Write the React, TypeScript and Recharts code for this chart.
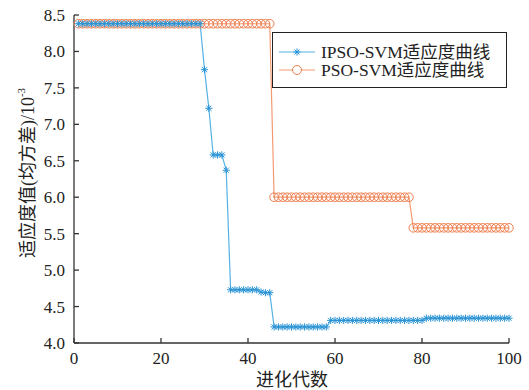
import React from 'react';
import { LineChart, Line, XAxis, YAxis } from 'recharts';

// 进化代数 1..100
const generations: number[] = Array.from({ length: 100 }, (_, i) => i + 1);

// IPSO-SVM 适应度 (x10^-3)
const ipso: number[] = [
  8.38, 8.38, 8.38, 8.38, 8.38, 8.38, 8.38, 8.38, 8.38, 8.38,
  8.38, 8.38, 8.38, 8.38, 8.38, 8.38, 8.38, 8.38, 8.38, 8.38,
  8.38, 8.38, 8.38, 8.38, 8.38, 8.38, 8.38, 8.38, 8.38, 7.75,
  7.22, 6.58, 6.58, 6.58, 6.37, 4.73, 4.73, 4.73, 4.73, 4.73,
  4.73, 4.73, 4.70, 4.69, 4.69, 4.22, 4.22, 4.22, 4.22, 4.22,
  4.22, 4.22, 4.22, 4.22, 4.22, 4.22, 4.22, 4.22, 4.31, 4.31,
  4.31, 4.31, 4.31, 4.31, 4.31, 4.31, 4.31, 4.31, 4.31, 4.31,
  4.31, 4.31, 4.31, 4.31, 4.31, 4.31, 4.31, 4.31, 4.31, 4.31,
  4.34, 4.34, 4.34, 4.34, 4.34, 4.34, 4.34, 4.34, 4.34, 4.34,
  4.34, 4.34, 4.34, 4.34, 4.34, 4.34, 4.34, 4.34, 4.34, 4.34,
];

// PSO-SVM 适应度 (x10^-3)
const pso: number[] = [
  8.38, 8.38, 8.38, 8.38, 8.38, 8.38, 8.38, 8.38, 8.38, 8.38,
  8.38, 8.38, 8.38, 8.38, 8.38, 8.38, 8.38, 8.38, 8.38, 8.38,
  8.38, 8.38, 8.38, 8.38, 8.38, 8.38, 8.38, 8.38, 8.38, 8.38,
  8.38, 8.38, 8.38, 8.38, 8.38, 8.38, 8.38, 8.38, 8.38, 8.38,
  8.38, 8.38, 8.38, 8.38, 8.38, 6.00, 6.00, 6.00, 6.00, 6.00,
  6.00, 6.00, 6.00, 6.00, 6.00, 6.00, 6.00, 6.00, 6.00, 6.00,
  6.00, 6.00, 6.00, 6.00, 6.00, 6.00, 6.00, 6.00, 6.00, 6.00,
  6.00, 6.00, 6.00, 6.00, 6.00, 6.00, 6.00, 5.58, 5.58, 5.58,
  5.58, 5.58, 5.58, 5.58, 5.58, 5.58, 5.58, 5.58, 5.58, 5.58,
  5.58, 5.58, 5.58, 5.58, 5.58, 5.58, 5.58, 5.58, 5.58, 5.58,
];

const seriesNames = ['IPSO-SVM适应度曲线', 'PSO-SVM适应度曲线'];
const xTicks = [0, 20, 40, 60, 80, 100];
const yTicks = [4.0, 4.5, 5.0, 5.5, 6.0, 6.5, 7.0, 7.5, 8.0, 8.5];

const data = generations.map((g, i) => ({ gen: g, ipso: ipso[i], pso: pso[i] }));

const FONT = 'Liberation Serif, Noto Sans CJK SC';
const AXIS = '#333';
const BLUE_LINE = '#55b2e4';
const BLUE_MARK = '#2a93d4';
const ORANGE_LINE = '#f39a73';
const ORANGE_MARK = '#ee7e4e';

const Asterisk = ({ cx, cy, r = 3.6 }: { cx: number; cy: number; r?: number }) => {
  const d = r * 0.707;
  return (
    <g stroke={BLUE_MARK} strokeWidth={1}>
      <line x1={cx - r} y1={cy} x2={cx + r} y2={cy} />
      <line x1={cx} y1={cy - r} x2={cx} y2={cy + r} />
      <line x1={cx - d} y1={cy - d} x2={cx + d} y2={cy + d} />
      <line x1={cx - d} y1={cy + d} x2={cx + d} y2={cy - d} />
    </g>
  );
};

const X_MARGIN = 14;
const XTick = (props: any) => {
  const { x, y, payload } = props;
  const ay = y - X_MARGIN;
  return (
    <g>
      <line x1={x} y1={ay} x2={x} y2={ay - 5} stroke={AXIS} strokeWidth={1.3} />
      <text x={x} y={ay + 21} textAnchor="middle" fontSize={17} fontFamily={FONT} fill="#222">
        {payload.value}
      </text>
    </g>
  );
};

const Y_MARGIN = 10;
const YTick = (props: any) => {
  const { x, y, payload } = props;
  const ax = x + Y_MARGIN;
  return (
    <g>
      <line x1={ax} y1={y} x2={ax + 5} y2={y} stroke={AXIS} strokeWidth={1.3} />
      <text x={ax - 9} y={y} dy="0.35em" textAnchor="end" fontSize={17} fontFamily={FONT} fill="#222">
        {Number(payload.value).toFixed(1)}
      </text>
    </g>
  );
};

const LegendBox = () => (
  <div
    style={{
      position: 'absolute',
      left: 272,
      top: 32,
      width: 233,
      height: 54,
      border: '1.5px solid #222',
      background: '#fff',
      fontFamily: FONT,
      fontSize: 17.5,
      color: '#222',
    }}
  >
    {seriesNames.map((name, k) => (
      <div key={name} style={{ display: 'flex', alignItems: 'center', height: 18, marginTop: k === 0 ? 10 : 0 }}>
        <svg width={48} height={18} style={{ flex: 'none' }}>
          <line x1={6} y1={9} x2={42} y2={9} stroke={k === 0 ? BLUE_LINE : ORANGE_LINE} strokeWidth={1.2} />
          {k === 0 ? (
            <Asterisk cx={24} cy={9} />
          ) : (
            <circle cx={24} cy={9} r={4.5} fill="#fff" stroke={ORANGE_MARK} strokeWidth={1} />
          )}
        </svg>
        <span style={{ whiteSpace: 'nowrap', lineHeight: '18px' }}>{name}</span>
      </div>
    ))}
  </div>
);

const App: React.FC = () => {
  return (
    <div style={{ position: 'absolute', left: 0, top: 0, width: 529, height: 390, background: '#fff' }}>
      <LineChart width={529} height={390} data={data} margin={{ top: 15, right: 20, bottom: 0, left: 0 }}>
        <XAxis
          dataKey="gen"
          type="number"
          domain={[0, 100]}
          ticks={xTicks}
          height={47}
          stroke={AXIS}
          strokeWidth={1.3}
          tickSize={0}
          tickMargin={X_MARGIN}
          tick={<XTick />}
          label={{
            content: () => (
              <text x={292} y={380} textAnchor="middle" dominantBaseline="central" fontSize={18} fontFamily={FONT} fill="#222">
                进化代数
              </text>
            ),
          }}
        />
        <YAxis
          type="number"
          domain={[4, 8.5]}
          ticks={yTicks}
          width={74}
          stroke={AXIS}
          strokeWidth={1.3}
          tickSize={0}
          tickMargin={Y_MARGIN}
          tick={<YTick />}
          interval={0}
          label={{
            content: () => (
              <text
                x={28}
                y={173}
                transform="rotate(-90 28 173)"
                textAnchor="middle"
                dominantBaseline="central"
                fontSize={18}
                fontFamily={FONT}
                fill="#222"
              >
                适应度值(均方差)/10
                <tspan fontSize={11} dy={-7}>-3</tspan>
              </text>
            ),
          }}
        />
        <Line
          dataKey="pso"
          name={seriesNames[1]}
          stroke={ORANGE_LINE}
          strokeWidth={1.2}
          isAnimationActive={false}
          dot={(p: any) => (
            <circle key={`p-${p.index}`} cx={p.cx} cy={p.cy} r={4.3} fill="none" stroke={ORANGE_MARK} strokeWidth={1} />
          )}
        />
        <Line
          dataKey="ipso"
          name={seriesNames[0]}
          stroke={BLUE_LINE}
          strokeWidth={1.2}
          isAnimationActive={false}
          dot={(p: any) => <Asterisk key={`i-${p.index}`} cx={p.cx} cy={p.cy} />}
        />
      </LineChart>
      <LegendBox />
    </div>
  );
};

export default App;
